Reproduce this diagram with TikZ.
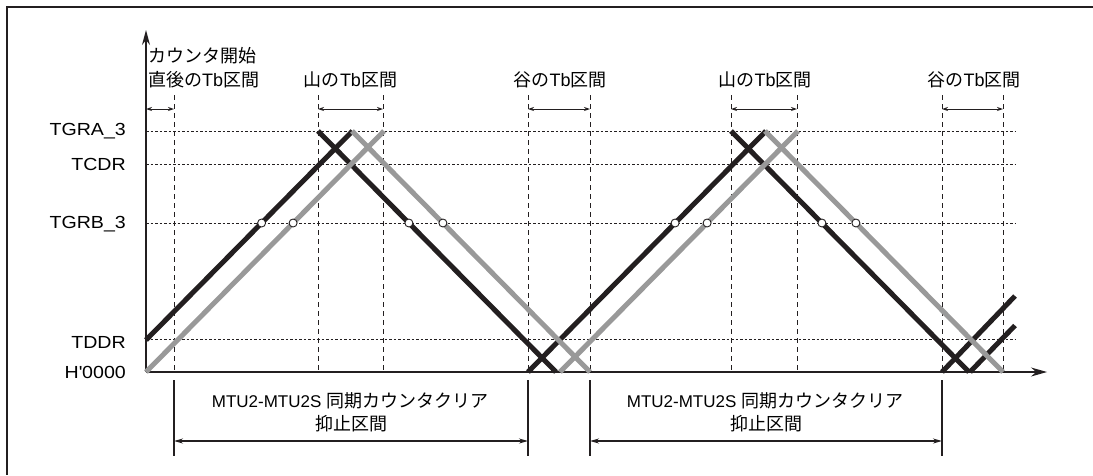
\documentclass[tikz,border=0pt]{standalone}
\usepackage{fontspec}
\setmainfont{Liberation Sans}
\newfontfamily\jpfont{Noto Sans CJK JP}
\newfontfamily\widelat[FakeStretch=1.12]{Liberation Sans}
\newcommand\jtext[1]{{\jpfont #1}}
\usetikzlibrary{arrows.meta}
\definecolor{ink}{RGB}{35,31,32}
\definecolor{lgray}{RGB}{153,153,153}
\begin{document}
\begin{tikzpicture}[x=1pt,y=-1pt,
  frameline/.style={draw=ink, line width=2.5pt},
  axisline/.style={draw=ink, line width=1.2pt},
  levelline/.style={draw=ink, line width=1pt, dash pattern=on 2.5pt off 2pt},
  tbline/.style={draw=ink, line width=1pt, dash pattern=on 5pt off 4pt},
  tbarrow/.style={draw=ink, line width=0.9pt, {Stealth[length=6pt,width=4pt]}-{Stealth[length=6pt,width=4pt]}},
  brline/.style={draw=ink, line width=1.2pt},
  brarrow/.style={draw=ink, line width=1.2pt, {Stealth[length=9pt,width=5pt]}-{Stealth[length=9pt,width=5pt]}},
  blk/.style={draw=ink, line width=5pt},
  gry/.style={draw=lgray, line width=5pt},
  ptc/.style={circle, draw=ink, fill=white, line width=0.9pt, minimum size=8pt, inner sep=0pt},
  lvl/.style={font=\widelat\fontsize{17.5}{20}\selectfont, anchor=east, inner sep=0pt},
  jlbl/.style={font=\fontsize{18}{22}\selectfont, inner sep=0pt, text height=15pt, text depth=3pt},
]
\useasboundingbox (0,0) rectangle (1093,475);

% frame (top and left)
\coordinate (fTL) at (7,7);
\coordinate (fTR) at (1093,7);
\coordinate (fBL) at (7,475);
\draw[frameline] (fTR) -- (fTL) -- (fBL);

% level lines
\foreach \n/\y in {A/131, C/164, B/223, D/339} {
  \coordinate (L-\n-s) at (146,\y);
  \coordinate (L-\n-e) at (1015,\y);
  \draw[levelline] (L-\n-s) -- (L-\n-e);
}

% Tb dashed verticals
\coordinate (tby) at (0,109);
\foreach \n/\x in {a/174, b/318, c/383, d/528, e/590, f/731, g/797, h/942, k/1003} {
  \coordinate (\n-top) at (\x,95);
  \coordinate (\n-bot) at (\x,372);
  \draw[tbline] (\n-top) -- (\n-bot);
}

% axes
\coordinate (O) at (146,372);
\coordinate (ytop) at (146,30);
\coordinate (xend) at (1047,372);
\draw[axisline, -{Stealth[length=15pt,width=8pt]}] (O) -- (ytop);
\draw[axisline, -{Stealth[length=16pt,width=9pt]}] (O) -- (xend);

% Tb interval arrows
\draw[tbarrow] (O |- tby) -- (a-top |- tby);
\draw[tbarrow] (b-top |- tby) -- (c-top |- tby);
\draw[tbarrow] (d-top |- tby) -- (e-top |- tby);
\draw[tbarrow] (f-top |- tby) -- (g-top |- tby);
\draw[tbarrow] (h-top |- tby) -- (k-top |- tby);

% counter lines (black)
\coordinate (b1s) at (146,340);   \coordinate (b1e) at (352.5,131);
\coordinate (b2s) at (318,131);   \coordinate (b2e) at (556,372);
\coordinate (b3s) at (528,372);   \coordinate (b3e) at (766,131);
\coordinate (b4s) at (731,131);   \coordinate (b4e) at (969,372);
\coordinate (b5s) at (942,372);   \coordinate (b5e) at (1015,296);
\coordinate (b6s) at (970,372);   \coordinate (b6e) at (1015,325.5);
\foreach \i in {1,...,6} { \draw[blk] (b\i s) -- (b\i e); }

% counter lines (gray)
\coordinate (g1s) at (146,372);   \coordinate (g1e) at (384,131);
\coordinate (g2s) at (352,131);   \coordinate (g2e) at (590,372);
\coordinate (g3s) at (560,372);   \coordinate (g3e) at (798,131);
\coordinate (g4s) at (765,131);   \coordinate (g4e) at (1003,372);
\foreach \i in {1,...,4} { \draw[gry] (g\i s) -- (g\i e); }

% compare-match points on TGRB_3
\foreach \n/\x in {p1/261.6, p2/293.1, p3/408.9, p4/442.9, p5/675.1, p6/707.1, p7/821.9, p8/855.9} {
  \node[ptc] (\n) at (\x,223) {};
}

% level labels
\node[lvl] (tA) at (126,131) {TGRA\_3};
\node[lvl] (tC) at (126,164) {TCDR};
\node[lvl] (tB) at (126,224) {TGRB\_3};
\node[lvl] (tD) at (126,342) {TDDR};
\node[lvl] (tZ) at (126,372) {H\textquotesingle 0000};

% top labels
\node[jlbl, anchor=west] (cs1) at (148,56.5) {\jtext{カウンタ開始}};
\node[jlbl, anchor=west] (cs2) at (148,80) {\jtext{直後の}Tb\jtext{区間}};
\node[jlbl] (m1) at (350.5,80) {\jtext{山の}Tb\jtext{区間}};
\node[jlbl] (v1) at (560,80) {\jtext{谷の}Tb\jtext{区間}};
\node[jlbl] (m2) at (765,80) {\jtext{山の}Tb\jtext{区間}};
\node[jlbl] (v2) at (974,80) {\jtext{谷の}Tb\jtext{区間}};

% bottom brackets
\coordinate (bry) at (0,441);
\foreach \n/\x in {a/174, d/528, e/590, h/942} {
  \coordinate (\n-s1) at (\x,380);
  \coordinate (\n-s2) at (\x,456);
  \draw[brline] (\n-s1) -- (\n-s2);
}
\draw[brarrow] (a-s1 |- bry) -- (d-s1 |- bry);
\draw[brarrow] (e-s1 |- bry) -- (h-s1 |- bry);

\node[jlbl] (c1a) at (350,401) {{\fontsize{17}{20}\selectfont MTU2-MTU2S }\jtext{同期カウンタクリア}};
\node[jlbl] (c1b) at (351,424) {\jtext{抑止区間}};
\node[jlbl] (c2a) at (765,401) {{\fontsize{17}{20}\selectfont MTU2-MTU2S }\jtext{同期カウンタクリア}};
\node[jlbl] (c2b) at (766,424) {\jtext{抑止区間}};
\end{tikzpicture}
\end{document}
